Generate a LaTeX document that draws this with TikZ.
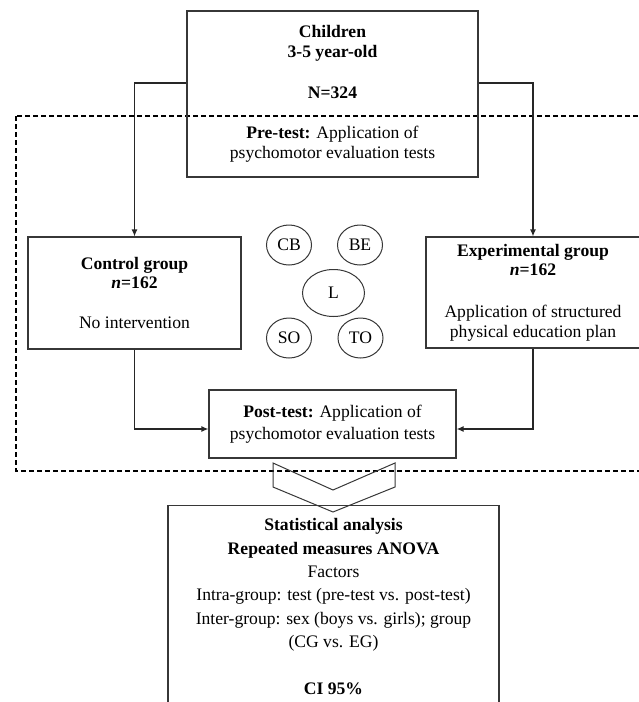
\documentclass[tikz,border=0pt]{standalone}
\usepackage{fontspec}
\setmainfont{Liberation Serif}
\usepackage{xcolor}
\usetikzlibrary{arrows.meta, shapes.geometric}
\definecolor{boxline}{RGB}{55,55,55}

\begin{document}
\begin{tikzpicture}[
  x=1pt, y=-1pt,
  font=\fontsize{17.6}{20.3}\selectfont,
  box/.style={draw=boxline, line width=1.2pt, align=center, inner sep=0pt},
  factor/.style={ellipse, draw=boxline, line width=1pt, inner sep=0pt, minimum width=45pt, minimum height=40pt},
  link/.style={draw=black!85, line width=1.2pt, -{Latex[length=7pt, width=6pt]}},
  phase/.style={draw=black, line width=1.1pt, dash pattern=on 5pt off 3pt}
]
\useasboundingbox (0,0) rectangle (639,702);
\clip (0,0) rectangle (639,702);
% intervention period
\draw[phase] (16,116) rectangle (660,471);
\node[box, minimum width=291pt, minimum height=166pt] (sample) at (332.5,94)
  {\textbf{Children}\\\textbf{3-5 year-old}\\[20pt]\textbf{N=324}\\[20pt]\textbf{Pre-test:} Application of\\psychomotor evaluation tests};
\node[box, minimum width=213pt, minimum height=112pt, font=\fontsize{17.6}{18.5}\selectfont] (control) at (134.5,293)
  {\textbf{Control group}\\\textbf{\textit{n}=162}\\[22pt]No intervention};
\node[box, minimum width=214pt, minimum height=111pt, font=\fontsize{17.6}{19.8}\selectfont] (exp) at (533,292.5)
  {\textbf{Experimental group}\\\textbf{\textit{n}=162}\\[22pt]Application of structured\\physical education plan};
\node[box, minimum width=247pt, minimum height=68pt, font=\fontsize{17.6}{22}\selectfont] (post) at (332.5,424)
  {\textbf{Post-test:} Application of\\psychomotor evaluation tests};
% psychomotor factors
\node[factor] (cb) at (289,245) {CB};
\node[factor] (be) at (360,245) {BE};
\node[factor, minimum width=62pt, minimum height=47pt] (l) at (333.5,293) {L};
\node[factor] (so) at (289,338) {SO};
\node[factor] (to) at (360.5,338) {TO};
\draw[link] ([yshift=11pt]sample.west) -| (control.north);
\draw[link] ([yshift=11pt]sample.east) -| (exp.north);
\draw[link] (control.south) |- ([yshift=-5pt]post.west);
\draw[link] (exp.south) |- ([yshift=-5pt]post.east);
\draw[boxline, line width=1pt] (273,463) -- (333,490) -- (395,463) -- (395,487) -- (333,512) -- (273,487) -- cycle;
\node[box, minimum width=331pt, minimum height=202pt, anchor=north, font=\fontsize{17.6}{23.4}\selectfont] (stats) at (333.5,505)
  {\textbf{Statistical analysis}\\\textbf{Repeated measures ANOVA}\\Factors\\Intra-group: test (pre-test vs. post-test)\\Inter-group: sex (boys vs. girls); group\\(CG vs. EG)\\[23.4pt]\textbf{CI 95\%}};
\end{tikzpicture}
\end{document}
